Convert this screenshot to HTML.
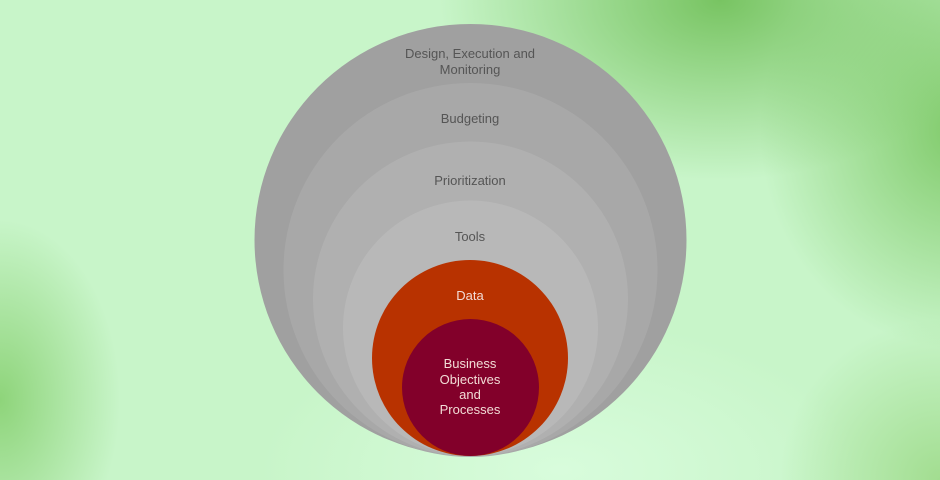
<!DOCTYPE html>
<html><head><style>
html,body{margin:0;padding:0}
body{width:940px;height:480px;overflow:hidden;position:relative;
background:
radial-gradient(ellipse 280px 180px at 720px 0px,#78c462 0%,rgba(120,196,98,0) 100%),
radial-gradient(ellipse 200px 220px at 960px 130px,#80ca6a 0%,rgba(128,202,106,0) 100%),
radial-gradient(ellipse 120px 180px at 0px 400px,#8ed47a 0%,rgba(142,212,122,0) 100%),
radial-gradient(ellipse 160px 160px at 940px 480px,#a2dd90 0%,rgba(162,221,144,0) 100%),
radial-gradient(ellipse 300px 150px at 560px 470px,#d8fcdc 0%,rgba(216,252,220,0) 100%),
#c8f5c9;}
svg{position:absolute;left:0;top:0}
text{font-family:"Liberation Sans",sans-serif;font-size:13px;text-anchor:middle}
</style></head><body>
<svg width="940" height="480">
<circle cx="470.5" cy="240" r="216" fill="#a0a0a0"/>
<circle cx="470.5" cy="270" r="187" fill="#a8a8a8"/>
<circle cx="470.5" cy="299" r="157.5" fill="#b0b0b0"/>
<circle cx="470.5" cy="328" r="127.5" fill="#b8b8b8"/>
<circle cx="470" cy="358" r="98" fill="#b83200"/>
<circle cx="470.5" cy="387.5" r="68.5" fill="#82002a"/>
<g fill="#555">
<text x="470" y="58">Design, Execution and</text>
<text x="470" y="74">Monitoring</text>
<text x="470" y="123">Budgeting</text>
<text x="470" y="185">Prioritization</text>
<text x="470" y="241">Tools</text>
</g>
<g fill="#f2dcd6">
<text x="470" y="300">Data</text>
<text x="470" y="368">Business</text>
<text x="470" y="384">Objectives</text>
<text x="470" y="399">and</text>
<text x="470" y="414">Processes</text>
</g>
</svg>
</body></html>
